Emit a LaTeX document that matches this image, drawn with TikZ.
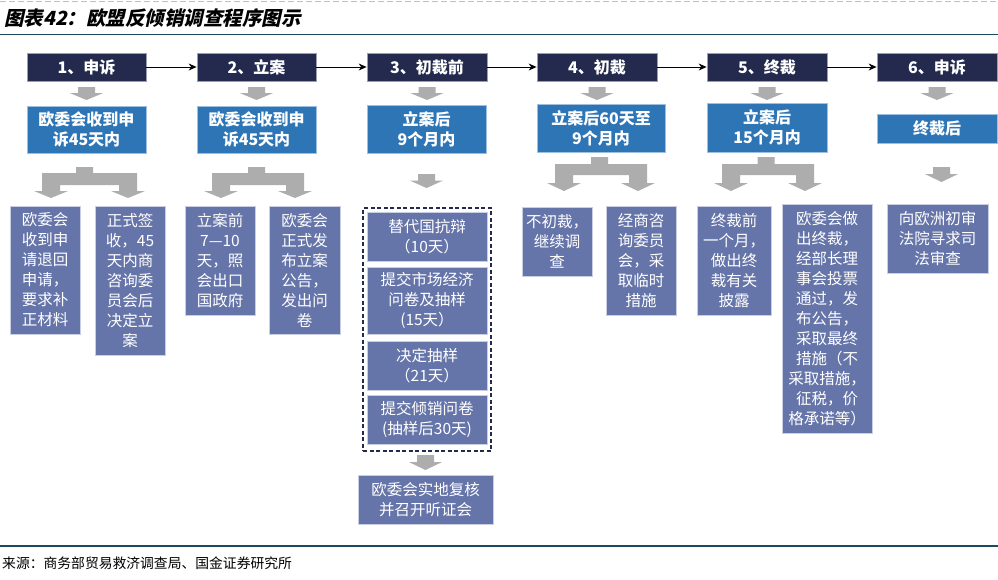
\documentclass[tikz,border=0pt]{standalone}
\usepackage{fontspec}
\setmainfont{Noto Sans CJK SC}
\newfontfamily\titlefont[FakeSlant=0.22]{Noto Sans CJK SC}
\usetikzlibrary{arrows.meta}
\definecolor{cnavy}{HTML}{232A4E}
\definecolor{cnavyedge}{HTML}{9A9DB3}
\definecolor{cblue}{HTML}{2E75B6}
\definecolor{cblueedge}{HTML}{9DC0E0}
\definecolor{cpurp}{HTML}{6675A9}
\definecolor{cpurpedge}{HTML}{C9CEE3}
\definecolor{cgreyarr}{HTML}{ADADAD}
\definecolor{cteal}{HTML}{1B4A63}
\definecolor{cdash}{HTML}{BFBFBF}
\newcommand\mybox[7]{%
  \pgfmathsetmacro\bxw{#4-#2}\pgfmathsetmacro\bxh{#5-#3}%
  \pgfmathsetmacro\bxcx{(#2+#4)/2}\pgfmathsetmacro\bxcy{(#3+#5)/2}%
  \node[#6, text width=\bxw pt, minimum height=\bxh pt, inner sep=0pt, align=center] (#1) at (\bxcx,\bxcy) {#7};}
\newcommand\downarr[3]{%
  \pgfmathsetmacro\dam{#2+(#3-#2)*0.47}%
  \fill[cgreyarr] (#1-8.5,#2) -- (#1+8.5,#2) -- (#1+8.5,\dam) -- (#1+16.5,\dam) -- (#1,#3) -- (#1-16.5,\dam) -- (#1-8.5,\dam) -- cycle;}
\newcommand\splitarr[8]{%
  \fill[cgreyarr] (#1-8.5,#2) -- (#1+8.5,#2) -- (#1+8.5,#3) -- (#8+9,#3) -- (#8+9,#5) -- (#8+17,#5) -- (#8,#6) -- (#8-17,#5) -- (#8-9,#5) -- (#8-9,#4) -- (#7+9,#4) -- (#7+9,#5) -- (#7+17,#5) -- (#7,#6) -- (#7-17,#5) -- (#7-9,#5) -- (#7-9,#3) -- (#1-8.5,#3) -- cycle;}
\begin{document}
\begin{tikzpicture}[x=1pt,y=-1pt,
  topbox/.style={fill=cnavy, draw=cnavyedge, line width=0.8pt, text=white, font=\bfseries\fontsize{16}{18}\selectfont},
  bluebox/.style={fill=cblue, draw=cblueedge, line width=0.8pt, text=white, font=\bfseries\fontsize{16}{20}\selectfont},
  purpbox/.style={fill=cpurp, draw=cpurpedge, line width=0.8pt, text=white, font=\fontsize{15.5}{20}\selectfont},
  dashbox/.style={draw=cnavy, line width=1.3pt, dash pattern=on 4pt off 2.5pt, fill=none},
  link/.style={-{Stealth[length=8pt,width=7pt]}, line width=1pt, black}]
\useasboundingbox (0,0) rectangle (998,579);
\fill[white] (0,0) rectangle (998,579);
% header and footer
\draw[cdash, line width=1.2pt, dash pattern=on 6pt off 3pt] (0,1.5) -- (998,1.5);
\node[anchor=west, inner sep=0pt, font=\titlefont\bfseries\fontsize{19.5}{22}\selectfont] (title) at (4,18) {图表42：欧盟反倾销调查程序图示};
\draw[cteal, line width=1.6pt] (0,34.5) -- (998,34.5);
\draw[cteal, line width=1.6pt] (0,546) -- (998,546);
\node[anchor=west, inner sep=0pt, font=\fontsize{13.8}{16}\selectfont] (src) at (2,563) {来源：商务部贸易救济调查局、国金证券研究所};
% top row
\mybox{t1}{27}{53}{146}{81}{topbox}{1、申诉}
\mybox{t2}{197}{53}{316}{81}{topbox}{2、立案}
\mybox{t3}{367}{53}{487}{81}{topbox}{3、初裁前}
\mybox{t4}{537}{53}{657}{81}{topbox}{4、初裁}
\mybox{t5}{707}{53}{827}{81}{topbox}{5、终裁}
\mybox{t6}{877}{53}{997}{81}{topbox}{6、申诉}
\draw[link] (t1) -- (t2);
\draw[link] (t2) -- (t3);
\draw[link] (t3) -- (t4);
\draw[link] (t4) -- (t5);
\draw[link] (t5) -- (t6);
% first arrows
\downarr{86.5}{87}{100}
\downarr{256.5}{87}{100}
\downarr{427}{87}{100}
\downarr{597}{87}{100}
\downarr{767}{87}{100}
\downarr{937}{87}{100}
% blue boxes
\mybox{b1}{27}{106}{146}{153}{bluebox}{欧委会收到申\\诉45天内}
\mybox{b2}{197}{106}{316}{153}{bluebox}{欧委会收到申\\诉45天内}
\mybox{b3}{367}{105}{486}{153}{bluebox}{立案后\\9个月内}
\mybox{b4}{537}{104}{665}{152}{bluebox}{立案后60天至\\9个月内}
\mybox{b5}{707}{103}{827}{152}{bluebox}{立案后\\15个月内}
\mybox{b6}{877}{114}{997}{143}{bluebox}{终裁后}
% second arrows
\splitarr{84.5}{167}{173}{185}{191}{198}{51}{128}
\splitarr{256.5}{167}{173}{185}{191}{198}{221}{295}
\downarr{426.5}{174}{188}
\splitarr{599.5}{157}{164}{175}{183}{191}{564}{638}
\splitarr{766}{157}{164}{175}{183}{191}{731}{805}
\downarr{941.5}{167}{182}
% lower boxes
\mybox{l1a}{10}{206}{80}{334}{purpbox}{欧委会\\收到申\\请退回\\申请，\\要求补\\正材料}
\mybox{l1b}{95}{206}{165}{355}{purpbox}{正式签\\收，45\\天内商\\咨询委\\员会后\\决定立\\案}
\mybox{l2a}{185}{206}{255}{315}{purpbox}{立案前\\7—10\\天，照\\会出口\\国政府}
\mybox{l2b}{269}{206}{340}{334}{purpbox}{欧委会\\正式发\\布立案\\公告，\\发出问\\卷}
\mybox{dash3}{363}{208}{491}{451}{dashbox}{}
\mybox{c3a}{367}{212}{487}{261}{purpbox}{替代国抗辩\\（10天）}
\mybox{c3b}{367}{267}{487}{334}{purpbox}{提交市场经济\\问卷及抽样\\(15天）}
\mybox{c3c}{367}{341}{487}{390}{purpbox}{决定抽样\\（21天）}
\mybox{c3d}{367}{395}{487}{444}{purpbox}{提交倾销问卷\\(抽样后30天)}
\downarr{425.5}{455}{470}
\mybox{c3e}{358}{475}{493}{524}{purpbox}{欧委会实地复核\\并召开听证会}
\mybox{l4a}{522}{207}{592}{276}{purpbox}{不初裁，\\继续调\\查}
\mybox{l4b}{606}{206}{676}{315}{purpbox}{经商咨\\询委员\\会，采\\取临时\\措施}
\mybox{l5a}{697}{206}{771}{315}{purpbox}{终裁前\\一个月，\\做出终\\裁有关\\披露}
\mybox{l5b}{782}{204}{872}{433}{purpbox}{欧委会做\\出终裁，\\经部长理\\事会投票\\通过，发\\布公告，\\采取最终\\措施（不\\采取措施，\\征税，价\\格承诺等）}
\mybox{l6}{887}{204}{988}{273}{purpbox}{向欧洲初审\\法院寻求司\\法审查}
\end{tikzpicture}
\end{document}
